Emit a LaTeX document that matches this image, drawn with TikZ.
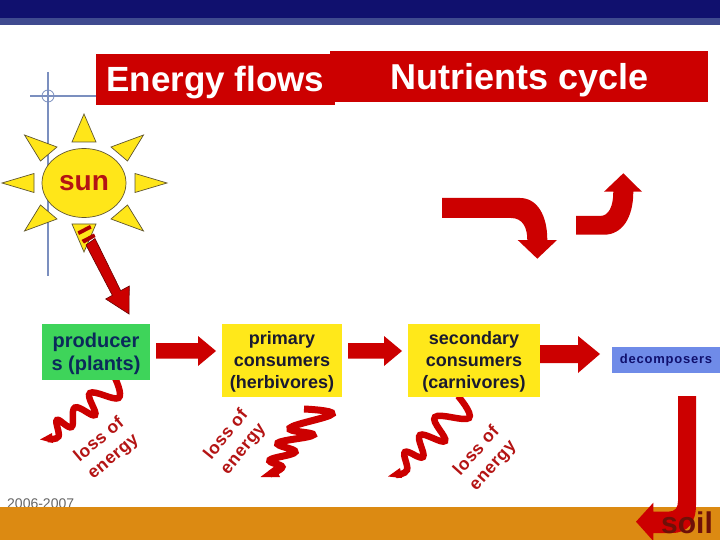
\documentclass[tikz,border=0pt]{standalone}
\usepackage{fontspec}
\setmainfont{Liberation Sans}
\usetikzlibrary{shapes.geometric}
\newfontfamily\spaced[LetterSpace=6]{Liberation Sans}
\newfontfamily\spacedb[LetterSpace=3]{Liberation Sans}
\definecolor{navy}{HTML}{10106E}
\definecolor{navyb}{HTML}{3F4A8F}
\definecolor{band}{HTML}{DC8A12}
\definecolor{redm}{HTML}{CC0000}
\definecolor{lossred}{HTML}{B41414}
\definecolor{sunyel}{HTML}{FFE619}
\definecolor{sunedge}{HTML}{5F5530}
\definecolor{cross}{HTML}{7B8FBF}
\definecolor{prodgreen}{HTML}{3ED45A}
\definecolor{consyel}{HTML}{FFE81A}
\definecolor{decblue}{HTML}{6F8BE8}
\definecolor{inkb}{HTML}{0B2A5A}
\definecolor{inkk}{HTML}{1A1A30}
\definecolor{soilink}{HTML}{6E1008}
\tikzset{
  titlebox/.style={fill=redm,text=white,font=\bfseries\fontsize{35}{38}\selectfont,inner sep=0pt,anchor=center},
  ray/.style={fill=sunyel,draw=sunedge,line width=0.7pt,line join=miter},
  block/.style={fill=redm},
  wavy/.style={draw=redm,line width=6.5pt,line cap=butt},
  tagbox/.style={inner sep=0pt,align=center,font=\bfseries\fontsize{18}{22}\selectfont,anchor=center},
  losstext/.style={text=lossred,inner sep=0pt,align=center,font=\bfseries\spacedb\fontsize{17.5}{22}\selectfont}
}
\begin{document}
\begin{tikzpicture}[x=1pt,y=-1pt]
\useasboundingbox (0,0) rectangle (720,540);
\clip (0,0) rectangle (720,540);
\fill[white] (0,0) rectangle (720,540);
% header
\fill[navy] (0,0) rectangle (720,18);
\fill[navyb] (0,18) rectangle (720,25);
% crosshair
\draw[cross,line width=1.8pt] (48,72) -- (48,276);
\draw[cross,line width=1.8pt] (30,96) -- (100,96);
\draw[cross,line width=0.8pt] (48,96) circle (6);
% title boxes
\node[titlebox,minimum width=378pt,minimum height=51pt] (nut) at (519,76.5) {};
\node[titlebox,minimum width=239pt,text height=38pt,text depth=13pt] (eng) at (215.5,79.5) {Energy flows};
\node[text=white,font=\bfseries\fontsize{36}{38}\selectfont,inner sep=0pt,anchor=base] (nutt) at (519.5,90) {Nutrients cycle};
% sun
\node[ellipse,fill=sunyel,draw=sunedge,line width=0.7pt,minimum width=84pt,minimum height=69pt,inner sep=0pt,text=lossred,font=\bfseries\fontsize{28}{30}\selectfont] (sun) at (84,183) {\raisebox{-2pt}{sun}};
\draw[ray] (84,114) -- (96,142) -- (72,142) -- cycle;
\draw[ray] (84,252) -- (96,224) -- (72,224) -- cycle;
\draw[ray] (2,183) -- (34,173.5) -- (34,192.5) -- cycle;
\draw[ray] (167,183) -- (135,173.5) -- (135,192.5) -- cycle;
\draw[ray] (24.5,135) -- (57,147) -- (40.5,161) -- cycle;
\draw[ray] (143.5,135) -- (111,147) -- (127.5,161) -- cycle;
\draw[ray] (24.5,231) -- (57,219) -- (40.5,205) -- cycle;
\draw[ray] (143.5,231) -- (111,219) -- (127.5,205) -- cycle;
% sun arrow
\fill[redm,draw=black!50!redm,line width=0.6pt] (86,245) -- (95,238.5) -- (120.7,290.7) -- (129.3,286) -- (129,314) -- (105.7,299) -- (112.3,295.3) -- cycle;
\fill[black!15!redm] (77.5,231.5) -- (90,225) -- (91.5,228.5) -- (79,235) -- cycle;
\fill[black!15!redm] (81.5,240) -- (94,233.5) -- (95.5,237) -- (84,243.5) -- cycle;
% waves
\draw[wavy] plot[smooth,tension=0.7] coordinates {(115,378) (118.5,398) (90,393) (95,415) (75,407.5) (71.5,427) (57,420) (58.5,436.5) (48,439)};
\fill[redm] (40,439.5) -- (52,433) -- (53,443) -- cycle;
\draw[wavy,line width=7pt] plot[smooth,tension=0.7] coordinates {(304,409) (332,414) (290,428) (313,435) (278,443) (295,452) (270,460) (282,467) (270,474)};
\fill[redm] (260.5,477) -- (275,466) -- (280,477) -- cycle;
\draw[wavy] plot[smooth,tension=0.7] coordinates {(458,396) (469,418) (435,417) (445,441) (420,435) (423,457) (405,452) (407,470) (396,475)};
\fill[redm] (388,476.5) -- (400,468) -- (402,478) -- cycle;
% block arrows
\fill[block] (156,343) -- (198,343) -- (198,336) -- (216,351) -- (198,366) -- (198,358.5) -- (156,358.5) -- cycle;
\fill[block] (348,343) -- (384,343) -- (384,336) -- (402,351) -- (384,366) -- (384,358.5) -- (348,358.5) -- cycle;
\fill[block] (540,345) -- (578,345) -- (578,336) -- (600,354) -- (578,373) -- (578,363) -- (540,363) -- cycle;
% role boxes
\node[tagbox,fill=prodgreen,text=inkb,minimum width=108pt,minimum height=56pt,font=\bfseries\fontsize{20}{23}\selectfont] (prod) at (96,352) {\rule{0pt}{18.5pt}producer\\s (plants)};
\node[tagbox,fill=consyel,text=inkk,minimum width=120pt,minimum height=73pt] (prim) at (282,360.5) {\rule{0pt}{16.5pt}primary\\consumers\\(herbivores)};
\node[tagbox,fill=consyel,text=inkk,minimum width=132pt,minimum height=73pt] (sec) at (474,360.5) {\rule{0pt}{16.5pt}secondary\\consumers\\(carnivores)};
\node[tagbox,fill=decblue,text=navy,minimum width=108pt,minimum height=26pt,font=\bfseries\spaced\fontsize{13}{16}\selectfont] (dec) at (666,360) {decomposers};
% loss labels
\node[losstext,rotate=40] (l1) at (106.5,448.5) {loss of\\energy};
\node[losstext,rotate=51] (l2) at (235,442) {loss of\\energy};
\node[losstext,rotate=48] (l3) at (485,458.5) {loss of\\energy};
% date and soil band
\node[text=black!60,font=\fontsize{14}{16}\selectfont,inner sep=0pt,anchor=base west] (date) at (7,508.5) {2006-2007};
\fill[band] (0,507) rectangle (720,540);
% curved arrows
\fill[block] (442,198) -- (520,198) .. controls (537,198) and (547.3,215) .. (547.3,240) -- (557,240) -- (537.3,258.7) -- (517.7,240) -- (527.3,240) .. controls (527.3,228) and (523,218) .. (511,218) -- (442,218) -- cycle;
\fill[block] (576,216) -- (600,216) .. controls (609,216) and (613.3,206) .. (613.3,191.7) -- (604,191.7) -- (623.3,173.3) -- (642,191.7) -- (633.3,191.7) .. controls (633.3,218) and (622,234.7) .. (604,234.7) -- (576,234.7) -- cycle;
\fill[block] (678,396) -- (696,396) -- (696,505) .. controls (696,522) and (688,533) .. (672,533) -- (653.3,533) -- (653.3,541) -- (636,521.7) -- (653.3,502.7) -- (653.3,511.7) -- (668,511.7) .. controls (675,511.7) and (678,508) .. (678,501) -- cycle;
\node[text=soilink,font=\bfseries\fontsize{30}{32}\selectfont,inner sep=0pt] (soil) at (687,523) {soil};
\end{tikzpicture}
\end{document}
